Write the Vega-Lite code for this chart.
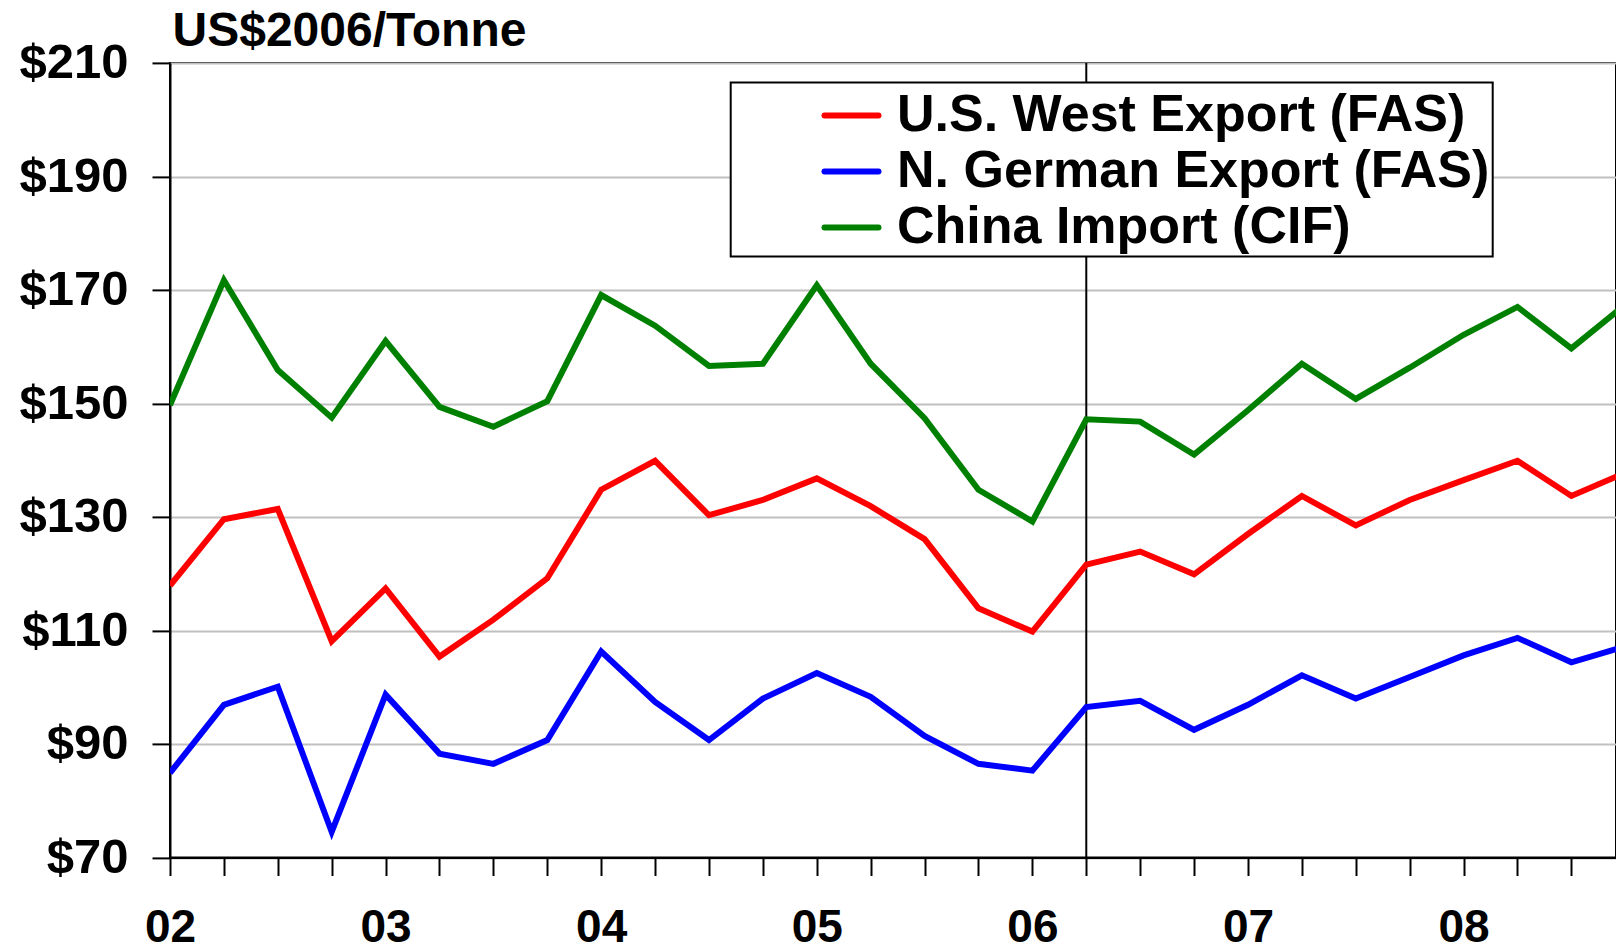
{
  "$schema": "https://vega.github.io/schema/vega-lite/v6.json",
  "width": 1446,
  "height": 794.6,
  "autosize": {"type": "none"},
  "padding": {"left": 170, "top": 62.9, "right": 0, "bottom": 94.5},
  "background": "white",
  "config": {
    "view": {"stroke": "black", "strokeWidth": 2},
    "font": "Liberation Sans"
  },
  "datasets": {
    "prices": [
      {"t": 2002.0, "series": "U.S. West Export (FAS)", "price": 117.9},
      {"t": 2002.25, "series": "U.S. West Export (FAS)", "price": 129.6},
      {"t": 2002.5, "series": "U.S. West Export (FAS)", "price": 131.4},
      {"t": 2002.75, "series": "U.S. West Export (FAS)", "price": 108.1},
      {"t": 2003.0, "series": "U.S. West Export (FAS)", "price": 117.4},
      {"t": 2003.25, "series": "U.S. West Export (FAS)", "price": 105.4},
      {"t": 2003.5, "series": "U.S. West Export (FAS)", "price": 111.9},
      {"t": 2003.75, "series": "U.S. West Export (FAS)", "price": 119.2},
      {"t": 2004.0, "series": "U.S. West Export (FAS)", "price": 134.8},
      {"t": 2004.25, "series": "U.S. West Export (FAS)", "price": 139.9},
      {"t": 2004.5, "series": "U.S. West Export (FAS)", "price": 130.3},
      {"t": 2004.75, "series": "U.S. West Export (FAS)", "price": 133.0},
      {"t": 2005.0, "series": "U.S. West Export (FAS)", "price": 136.8},
      {"t": 2005.25, "series": "U.S. West Export (FAS)", "price": 131.9},
      {"t": 2005.5, "series": "U.S. West Export (FAS)", "price": 126.1},
      {"t": 2005.75, "series": "U.S. West Export (FAS)", "price": 113.9},
      {"t": 2006.0, "series": "U.S. West Export (FAS)", "price": 109.8},
      {"t": 2006.25, "series": "U.S. West Export (FAS)", "price": 121.6},
      {"t": 2006.5, "series": "U.S. West Export (FAS)", "price": 123.9},
      {"t": 2006.75, "series": "U.S. West Export (FAS)", "price": 119.9},
      {"t": 2007.0, "series": "U.S. West Export (FAS)", "price": 127.0},
      {"t": 2007.25, "series": "U.S. West Export (FAS)", "price": 133.7},
      {"t": 2007.5, "series": "U.S. West Export (FAS)", "price": 128.5},
      {"t": 2007.75, "series": "U.S. West Export (FAS)", "price": 133.0},
      {"t": 2008.0, "series": "U.S. West Export (FAS)", "price": 136.5},
      {"t": 2008.25, "series": "U.S. West Export (FAS)", "price": 139.9},
      {"t": 2008.5, "series": "U.S. West Export (FAS)", "price": 133.7},
      {"t": 2008.75, "series": "U.S. West Export (FAS)", "price": 137.8},
      {"t": 2002.0, "series": "N. German Export (FAS)", "price": 84.9},
      {"t": 2002.25, "series": "N. German Export (FAS)", "price": 96.9},
      {"t": 2002.5, "series": "N. German Export (FAS)", "price": 100.1},
      {"t": 2002.75, "series": "N. German Export (FAS)", "price": 74.5},
      {"t": 2003.0, "series": "N. German Export (FAS)", "price": 98.7},
      {"t": 2003.25, "series": "N. German Export (FAS)", "price": 88.3},
      {"t": 2003.5, "series": "N. German Export (FAS)", "price": 86.5},
      {"t": 2003.75, "series": "N. German Export (FAS)", "price": 90.7},
      {"t": 2004.0, "series": "N. German Export (FAS)", "price": 106.3},
      {"t": 2004.25, "series": "N. German Export (FAS)", "price": 97.4},
      {"t": 2004.5, "series": "N. German Export (FAS)", "price": 90.7},
      {"t": 2004.75, "series": "N. German Export (FAS)", "price": 98.0},
      {"t": 2005.0, "series": "N. German Export (FAS)", "price": 102.5},
      {"t": 2005.25, "series": "N. German Export (FAS)", "price": 98.3},
      {"t": 2005.5, "series": "N. German Export (FAS)", "price": 91.4},
      {"t": 2005.75, "series": "N. German Export (FAS)", "price": 86.5},
      {"t": 2006.0, "series": "N. German Export (FAS)", "price": 85.3},
      {"t": 2006.25, "series": "N. German Export (FAS)", "price": 96.5},
      {"t": 2006.5, "series": "N. German Export (FAS)", "price": 97.6},
      {"t": 2006.75, "series": "N. German Export (FAS)", "price": 92.5},
      {"t": 2007.0, "series": "N. German Export (FAS)", "price": 96.9},
      {"t": 2007.25, "series": "N. German Export (FAS)", "price": 102.1},
      {"t": 2007.5, "series": "N. German Export (FAS)", "price": 98.0},
      {"t": 2007.75, "series": "N. German Export (FAS)", "price": 101.8},
      {"t": 2008.0, "series": "N. German Export (FAS)", "price": 105.6},
      {"t": 2008.25, "series": "N. German Export (FAS)", "price": 108.7},
      {"t": 2008.5, "series": "N. German Export (FAS)", "price": 104.4},
      {"t": 2008.75, "series": "N. German Export (FAS)", "price": 107.2},
      {"t": 2002.0, "series": "China Import (CIF)", "price": 149.7},
      {"t": 2002.25, "series": "China Import (CIF)", "price": 171.7},
      {"t": 2002.5, "series": "China Import (CIF)", "price": 155.9},
      {"t": 2002.75, "series": "China Import (CIF)", "price": 147.5},
      {"t": 2003.0, "series": "China Import (CIF)", "price": 161.0},
      {"t": 2003.25, "series": "China Import (CIF)", "price": 149.4},
      {"t": 2003.5, "series": "China Import (CIF)", "price": 145.9},
      {"t": 2003.75, "series": "China Import (CIF)", "price": 150.4},
      {"t": 2004.0, "series": "China Import (CIF)", "price": 169.1},
      {"t": 2004.25, "series": "China Import (CIF)", "price": 163.7},
      {"t": 2004.5, "series": "China Import (CIF)", "price": 156.6},
      {"t": 2004.75, "series": "China Import (CIF)", "price": 157.0},
      {"t": 2005.0, "series": "China Import (CIF)", "price": 170.8},
      {"t": 2005.25, "series": "China Import (CIF)", "price": 157.0},
      {"t": 2005.5, "series": "China Import (CIF)", "price": 147.4},
      {"t": 2005.75, "series": "China Import (CIF)", "price": 134.8},
      {"t": 2006.0, "series": "China Import (CIF)", "price": 129.2},
      {"t": 2006.25, "series": "China Import (CIF)", "price": 147.2},
      {"t": 2006.5, "series": "China Import (CIF)", "price": 146.8},
      {"t": 2006.75, "series": "China Import (CIF)", "price": 141.0},
      {"t": 2007.0, "series": "China Import (CIF)", "price": 148.8},
      {"t": 2007.25, "series": "China Import (CIF)", "price": 157.0},
      {"t": 2007.5, "series": "China Import (CIF)", "price": 150.8},
      {"t": 2007.75, "series": "China Import (CIF)", "price": 156.3},
      {"t": 2008.0, "series": "China Import (CIF)", "price": 162.1},
      {"t": 2008.25, "series": "China Import (CIF)", "price": 167.0},
      {"t": 2008.5, "series": "China Import (CIF)", "price": 159.7},
      {"t": 2008.75, "series": "China Import (CIF)", "price": 167.4}
    ],
    "marker": [{"t": 2006.25}]
  },
  "encoding": {
    "x": {
      "field": "t",
      "type": "quantitative",
      "scale": {"domain": [2002, 2008.707], "nice": false, "zero": false},
      "axis": {
        "title": null,
        "values": [2002, 2002.25, 2002.5, 2002.75, 2003, 2003.25, 2003.5, 2003.75, 2004, 2004.25, 2004.5, 2004.75, 2005, 2005.25, 2005.5, 2005.75, 2006, 2006.25, 2006.5, 2006.75, 2007, 2007.25, 2007.5, 2007.75, 2008, 2008.25, 2008.5],
        "labelExpr": "datum.value % 1 == 0 ? '0' + (datum.value - 2000) : ''",
        "grid": false,
        "tickSize": 18,
        "tickColor": "black",
        "tickWidth": 2,
        "domainColor": "black",
        "domainWidth": 2,
        "labelFont": "Liberation Sans",
        "labelFontSize": 46,
        "labelFontWeight": "bold",
        "labelColor": "black",
        "labelPadding": 29.5,
        "labelFlush": false,
        "labelOverlap": false,
        "labelBound": false
      }
    }
  },
  "layer": [
    {
      "data": {"name": "marker"},
      "mark": {"type": "rule", "color": "black", "strokeWidth": 2},
      "encoding": {}
    },
    {
      "data": {"name": "prices"},
      "mark": {"type": "line", "strokeWidth": 6, "clip": true, "strokeJoin": "miter"},
      "encoding": {
        "y": {
          "field": "price",
          "type": "quantitative",
          "scale": {"domain": [70, 210], "nice": false, "zero": false},
          "axis": {
            "values": [70, 90, 110, 130, 150, 170, 190, 210],
            "labelExpr": "'$' + datum.value",
            "grid": true,
            "gridColor": "#c0c0c0",
            "gridWidth": 2,
            "tickSize": 18,
            "tickColor": "black",
            "tickWidth": 2,
            "domainColor": "black",
            "domainWidth": 2,
            "labelFont": "Liberation Sans",
            "labelFontSize": 49,
            "labelFontWeight": "bold",
            "labelColor": "black",
            "labelPadding": 24,
            "labelFlush": false,
            "labelOverlap": false,
            "labelBound": false,
            "title": "US$2006/Tonne",
            "titleAngle": 0,
            "titleAlign": "left",
            "titleBaseline": "alphabetic",
            "titleX": 2,
            "titleY": -17,
            "titleFont": "Liberation Sans",
            "titleFontSize": 48,
            "titleFontWeight": "bold",
            "titleColor": "black"
          }
        },
        "color": {
          "field": "series",
          "type": "nominal",
          "scale": {
            "domain": ["U.S. West Export (FAS)", "N. German Export (FAS)", "China Import (CIF)"],
            "range": ["#ff0000", "#0000ff", "#008000"]
          },
          "legend": {
            "title": null,
            "orient": "none",
            "legendX": 560.7,
            "legendY": 19.5,
            "symbolType": "stroke",
            "symbolSize": 2916,
            "symbolStrokeWidth": 6,
            "symbolOffset": 87.8,
            "labelOffset": 15.5,
            "labelFont": "Liberation Sans",
            "labelFontSize": 52,
            "labelFontWeight": "bold",
            "labelColor": "black",
            "labelLimit": 1000,
            "padding": 3,
            "rowPadding": -3,
            "strokeColor": "black",
            "fillColor": "white",
            "encode": {
              "legend": {"update": {"strokeWidth": {"value": 2}}},
              "symbols": {"update": {"strokeCap": {"value": "round"}}}
            }
          }
        }
      }
    }
  ]
}
